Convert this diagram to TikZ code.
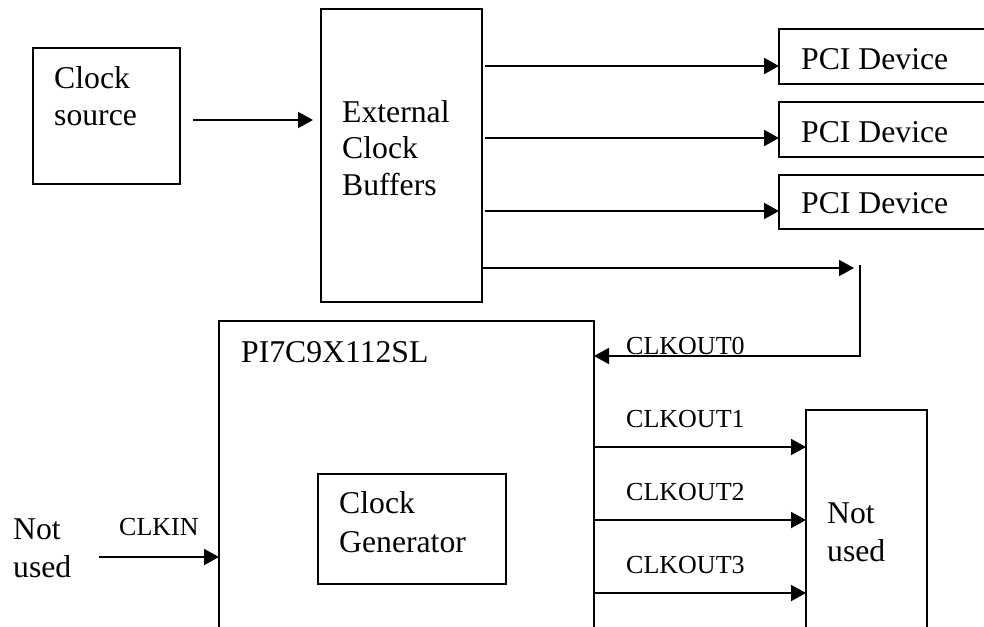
\documentclass[tikz,border=0pt]{standalone}
\usepackage{fontspec}
\setmainfont{Liberation Serif}
\usetikzlibrary{arrows.meta,calc}
\begin{document}
\begin{tikzpicture}[x=1pt,y=-1pt,
  box/.style={draw,line width=1.5pt,anchor=north west,inner sep=0pt,outer sep=0pt},
  big/.style={anchor=base west,inner sep=0pt,font=\fontsize{31.7}{36}\selectfont},
  small/.style={anchor=base west,inner sep=0pt,font=\fontsize{26}{30}\selectfont},
  arr/.style={line width=2pt,-{Triangle[length=15pt,width=16pt]}},
  wire/.style={line width=2pt}]
\fill[white] (0,0) rectangle (984,626);
\clip (0,0) rectangle (984,626);
% boxes
\node[box,minimum width=147pt,minimum height=136pt] (cs) at (33,48) {};
\node[box,minimum width=161pt,minimum height=293pt] (buf) at (321,9) {};
\node[box,minimum width=240pt,minimum height=55pt] (pci1) at (779,29) {};
\node[box,minimum width=240pt,minimum height=55pt] (pci2) at (779,102) {};
\node[box,minimum width=240pt,minimum height=54pt] (pci3) at (779,175) {};
\node[box,minimum width=375pt,minimum height=330pt] (pi) at (219,321) {};
\node[box,minimum width=188pt,minimum height=110pt] (gen) at (318,474) {};
\node[box,minimum width=121pt,minimum height=240pt] (nu) at (806,410) {};
% texts
\node[big] (t1) at (54,88) {Clock};
\node[big] (t2) at (54,125) {source};
\node[big] (t3) at (342,122) {External};
\node[big] (t4) at (342,158) {Clock};
\node[big] (t5) at (342,195) {Buffers};
\node[big] (p1) at (801,69) {PCI Device};
\node[big] (p2) at (801,142) {PCI Device};
\node[big] (p3) at (801,213) {PCI Device};
\node[big] (pit) at (241,362) {PI7C9X112SL};
\node[big] (g1) at (339,513) {Clock};
\node[big] (g2) at (339,552) {Generator};
\node[big] (n1) at (13,539) {Not};
\node[big] (n2) at (13,577) {used};
\node[big] (n3) at (827,523) {Not};
\node[big] (n4) at (827,561) {used};
\node[small] (lin) at (119,535) {CLKIN};
\node[small] (l0) at (626,354) {CLKOUT0};
\node[small] (l1) at (626,427) {CLKOUT1};
\node[small] (l2) at (626,500) {CLKOUT2};
\node[small] (l3) at (626,573) {CLKOUT3};
% coordinates
\coordinate (a0) at (193,120);
\coordinate (e4) at (854,268);
\coordinate (v0) at (860,265);
\coordinate (v1) at (860,356);
\coordinate (o1) at (700,447);
\coordinate (o2) at (700,520);
\coordinate (o3) at (700,593);
\coordinate (ci) at (99,557);
% connectors
\draw[arr] (a0) -- ($(a0 -| buf.west)+(-8,0)$);
\draw[arr] ($(buf.east |- pci1.west)+(3,9.5)$) -- ($(pci1.west)+(0,9.5)$);
\draw[arr] ($(buf.east |- pci2.west)+(3,8.5)$) -- ($(pci2.west)+(0,8.5)$);
\draw[arr] ($(buf.east |- pci3.west)+(3,9)$) -- ($(pci3.west)+(0,9)$);
\draw[arr] (buf.east |- e4) -- (e4);
\draw[arr] (v0) -- (v1) -- (pi.east |- v1);
\draw[arr] (pi.east |- o1) -- (nu.west |- o1);
\draw[arr] (pi.east |- o2) -- (nu.west |- o2);
\draw[arr] (pi.east |- o3) -- (nu.west |- o3);
\draw[arr] (ci) -- (pi.west |- ci);
\end{tikzpicture}
\end{document}
